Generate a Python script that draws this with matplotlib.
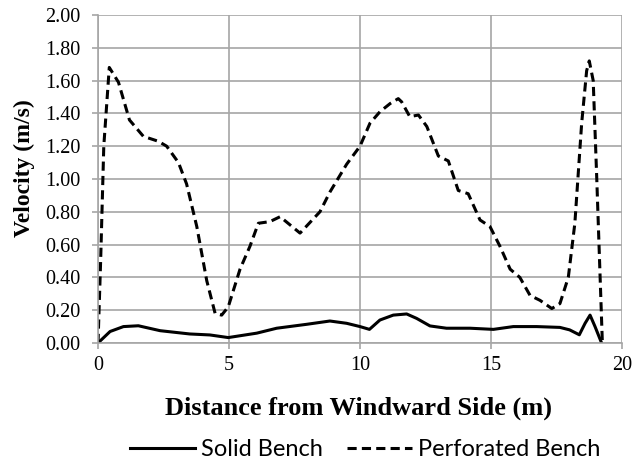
import matplotlib
matplotlib.use("Agg")
from matplotlib import pyplot as plt

# Solid bench velocity profile
solid_x = [0, 0.46, 0.97, 1.54, 2.37, 3.5, 4.27, 4.97, 6.06, 6.82, 7.97, 8.85, 9.49, 10.0,
           10.36, 10.76, 11.27, 11.78, 12.16, 12.67, 13.3, 14.2, 15.09, 15.85, 16.74, 17.63,
           18.0, 18.37, 18.59, 18.78, 18.97, 19.22]
solid_v = [0.0, 0.07, 0.10, 0.105, 0.075, 0.055, 0.049, 0.033, 0.06, 0.09, 0.114, 0.134, 0.12, 0.10,
           0.083, 0.14, 0.17, 0.177, 0.15, 0.104, 0.09, 0.09, 0.083, 0.10, 0.10, 0.095,
           0.08, 0.05, 0.12, 0.17, 0.10, 0.0]

# Perforated bench velocity profile
perf_x = [0, 0.1, 0.22, 0.43, 0.78, 1.2, 1.73, 2.3, 2.62, 3.07, 3.38, 3.77, 4.15, 4.47, 4.72, 4.97,
          5.42, 5.8, 6.12, 6.56, 6.95, 7.33, 7.71, 8.47, 8.85, 9.49, 10.0, 10.38, 10.76, 11.15,
          11.46, 11.59, 11.9, 12.23, 12.55, 12.99, 13.37, 13.75, 14.13, 14.58, 14.96, 15.34,
          15.73, 16.1, 16.49, 16.87, 17.32, 17.63, 17.95, 18.2, 18.46, 18.65, 18.75, 18.9,
          19.03, 19.16, 19.25]
perf_v = [0.0, 0.5, 1.2, 1.68, 1.59, 1.36, 1.26, 1.23, 1.20, 1.10, 0.97, 0.71, 0.38, 0.18, 0.17, 0.22,
          0.45, 0.59, 0.73, 0.74, 0.77, 0.72, 0.67, 0.80, 0.92, 1.09, 1.20, 1.34, 1.41, 1.46,
          1.49, 1.47, 1.38, 1.39, 1.32, 1.14, 1.11, 0.93, 0.91, 0.75, 0.71, 0.59,
          0.45, 0.40, 0.29, 0.26, 0.21, 0.24, 0.40, 0.73, 1.34, 1.66, 1.72, 1.60,
          1.03, 0.42, 0.0]

x_ticks = [0, 5, 10, 15, 20]
y_ticks = [0.0, 0.2, 0.4, 0.6, 0.8, 1.0, 1.2, 1.4, 1.6, 1.8, 2.0]

serif = "Liberation Serif"
plt.rcParams["font.family"] = [serif, "DejaVu Serif"]
grid_c = "#a6a6a6"

fig = plt.figure(figsize=(6.34, 4.61), dpi=100)
ax = fig.add_axes([0.1546, 0.256, 0.8265, 0.7115])

ax.plot(solid_x, solid_v, color="black", lw=2.2, solid_joinstyle="round", label="Solid Bench")
ax.plot(perf_x, perf_v, color="black", lw=2.2, dashes=(3.0, 1.7), dash_joinstyle="round",
        dash_capstyle="butt", label="Perforated Bench")

ax.set_xlim(0, 20)
ax.set_ylim(0, 2.0)
ax.set_xticks(x_ticks)
ax.set_xticklabels([str(v) for v in x_ticks], fontfamily=serif, fontsize=14.5)
ax.set_yticks(y_ticks)
ax.set_yticklabels(["{:.2f}".format(v) for v in y_ticks], fontfamily=serif, fontsize=14.5)
ax.grid(True, color=grid_c, lw=1.2)
ax.set_axisbelow(True)
for s in ["top", "right"]:
    ax.spines[s].set_visible(False)
for s in ["left", "bottom"]:
    ax.spines[s].set_color(grid_c)
    ax.spines[s].set_linewidth(1.2)
ax.tick_params(axis="both", colors=grid_c, length=4.5, width=1.2, labelcolor="black")
ax.tick_params(axis="y", pad=8)
ax.tick_params(axis="x", pad=5)

# axis titles
fig.text(0.566, 0.0998, "Distance from Windward Side (m)", ha="center", va="baseline",
         fontsize=19, fontweight="bold", fontfamily=serif)
fig.text(0.038, 0.6356, "Velocity (m/s)", ha="center", va="center", rotation=90,
         fontsize=17, fontweight="bold", fontfamily=serif)

fig.legend(loc="center", bbox_to_anchor=(0.576, 0.024), ncol=2, frameon=False,
           prop={"family": "Lato", "size": 17}, handlelength=2.75, columnspacing=1.0,
           handletextpad=0.25, borderpad=0.1)

fig.savefig("out.png", dpi=100)
